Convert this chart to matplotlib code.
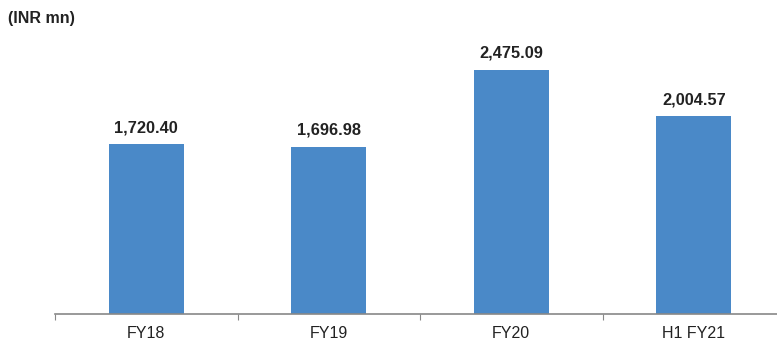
import numpy as np
import matplotlib.pyplot as plt

# data
categories = ['FY18', 'FY19', 'FY20', 'H1 FY21']
values = [1720.40, 1696.98, 2475.09, 2004.57]

plt.rcParams['font.family'] = ['Liberation Sans', 'DejaVu Sans']

fig = plt.figure(figsize=(7.77, 3.42), dpi=100)
ax = fig.add_axes([55 / 777, 28 / 342, 1 - 55 / 777, 314 / 342])

x = np.arange(len(categories))
ax.bar(x, values, width=0.41, color='#4A89C8')

for xi, v in zip(x, values):
    ax.text(xi, v + 95, f'{v:,.2f}', ha='center', va='bottom',
            fontsize=11.8, fontweight='bold', color='#222222')

ax.set_xlim(-0.5, 3.456)
ax.set_ylim(0, 3185)

# ticks at category boundaries, labels at centres
ax.set_xticks(np.arange(len(categories)) - 0.5)
ax.set_xticklabels([])
ax.set_xticks(x, minor=True)
ax.set_xticklabels(categories, minor=True, fontsize=11.5, color='#222222')
ax.tick_params(axis='x', which='major', length=4, color='#888888', direction='out')
ax.tick_params(axis='x', which='minor', length=0, pad=8.5)
ax.set_yticks([])

for s in ['top', 'right', 'left']:
    ax.spines[s].set_visible(False)
ax.spines['bottom'].set_color('#888888')
ax.spines['bottom'].set_linewidth(1.2)

fig.text(8 / 777, 1 - 18 / 342, '(INR mn)', ha='left', va='center',
         fontsize=11.5, fontweight='bold', color='#222222')

fig.savefig('out.png', dpi=100)
